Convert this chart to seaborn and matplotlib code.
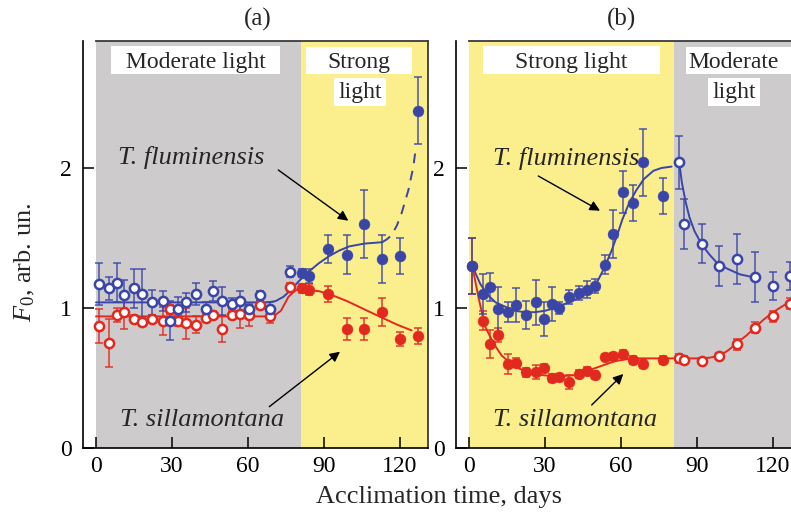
import matplotlib
matplotlib.use("Agg")
import matplotlib.pyplot as plt
from matplotlib.patches import Rectangle
import pandas as pd
import seaborn as sns

# ---------------- data ----------------
# panel (a): moderate light (open symbols)
a_mod_day = [1.2, 5.1, 8.2, 11.2, 15.1, 18.2, 22.1, 26.3, 29.2, 32.2, 35.4, 39.3,
             43.3, 46.3, 49.6, 53.6, 56.8, 60.5, 64.7, 68.7, 76.6]
a_mod_flu = [1.17, 1.14, 1.18, 1.09, 1.14, 1.10, 1.04, 1.05, 0.91, 0.99, 1.04, 1.10,
             0.99, 1.12, 1.05, 1.03, 1.05, 0.99, 1.09, 0.99, 1.26]
a_mod_flu_err = [0.15, 0.08, 0.14, 0.11, 0.14, 0.18, 0.09, 0.07, 0.14, 0.09, 0.07, 0.08,
                 0.05, 0.07, 0.10, 0.04, 0.07, 0.03, 0.03, 0.05, 0.04]
a_mod_sil = [0.87, 0.75, 0.95, 0.97, 0.92, 0.90, 0.92, 0.91, 0.99, 0.91, 0.89, 0.88,
             0.93, 0.95, 0.85, 0.95, 0.96, 0.95, 1.02, 0.94, 1.15]
a_mod_sil_err = [0.12, 0.17, 0.05, 0.12, 0.03, 0.03, 0.03, 0.10, 0.03, 0.04, 0.11, 0.06,
                 0.03, 0.03, 0.09, 0.03, 0.10, 0.08, 0.03, 0.05, 0.03]
# panel (a): strong light (filled symbols)
a_str_day = [81.5, 84.0, 91.7, 99.0, 106.0, 113.0, 120.0, 127.3]
a_str_flu = [1.25, 1.23, 1.42, 1.38, 1.60, 1.35, 1.37, 2.41]
a_str_flu_err = [0.03, 0.05, 0.10, 0.14, 0.24, 0.17, 0.13, 0.24]
a_str_sil = [1.14, 1.13, 1.10, 0.85, 0.85, 0.97, 0.78, 0.80]
a_str_sil_err = [0.03, 0.04, 0.06, 0.08, 0.08, 0.10, 0.05, 0.06]
# panel (a): fitted curves
a_fit_flu_day = [0, 68, 71, 74, 77, 80, 84, 88, 92, 96, 100, 106, 113]
a_fit_flu = [1.04, 1.04, 1.05, 1.08, 1.13, 1.19, 1.26, 1.32, 1.37, 1.41, 1.44, 1.46, 1.47]
a_dash_flu_day = [113, 114.8, 116.7, 118.8, 120.7, 123.3, 125.3, 126.3]
a_dash_flu = [1.47, 1.49, 1.52, 1.59, 1.68, 1.84, 2.01, 2.15]
a_fit_sil_day = [0, 70, 73, 76, 79, 83, 88, 92, 99, 106, 113, 119, 124.6]
a_fit_sil = [0.94, 0.94, 0.98, 1.08, 1.13, 1.13, 1.12, 1.10, 1.05, 0.99, 0.93, 0.88, 0.84]

# panel (b): strong light (filled symbols)
b_str_day = [1.3, 5.4, 8.3, 11.3, 15.3, 18.6, 22.4, 26.5, 29.5, 32.6, 35.5, 39.6,
             43.6, 46.7, 49.7, 53.7, 56.7, 60.9, 64.9, 68.8, 76.7]
b_str_flu = [1.30, 1.10, 1.15, 0.99, 0.97, 1.02, 0.95, 1.04, 0.92, 1.03, 1.00, 1.08,
             1.11, 1.13, 1.16, 1.31, 1.53, 1.83, 1.75, 2.04, 1.80]
b_str_flu_err = [0.20, 0.14, 0.10, 0.16, 0.07, 0.12, 0.10, 0.16, 0.12, 0.12, 0.04, 0.05,
                 0.05, 0.06, 0.05, 0.07, 0.17, 0.15, 0.13, 0.24, 0.13]
b_str_sil = [1.30, 0.91, 0.74, 0.81, 0.60, 0.61, 0.54, 0.54, 0.57, 0.50, 0.51, 0.47,
             0.53, 0.55, 0.52, 0.65, 0.66, 0.67, 0.63, 0.60, 0.63]
b_str_sil_err = [0.20, 0.07, 0.10, 0.05, 0.07, 0.03, 0.03, 0.05, 0.03, 0.03, 0.02, 0.05,
                 0.03, 0.03, 0.03, 0.02, 0.02, 0.03, 0.03, 0.03, 0.03]
# panel (b): moderate light (open symbols)
b_mod_day = [82.9, 85.0, 92.0, 98.8, 105.9, 112.9, 120.1, 126.7]
b_mod_flu = [2.04, 1.60, 1.46, 1.30, 1.35, 1.22, 1.16, 1.23]
b_mod_flu_err = [0.19, 0.18, 0.14, 0.14, 0.18, 0.18, 0.10, 0.10]
b_mod_sil = [0.64, 0.63, 0.62, 0.66, 0.74, 0.86, 0.94, 1.03]
b_mod_sil_err = [0.03, 0.03, 0.02, 0.02, 0.04, 0.04, 0.04, 0.04]
# panel (b): fitted curves
b_fit1_flu_day = [1.3, 4.5, 7.6, 10.5, 14.2, 18, 22.1, 26, 30, 34, 37.9, 42, 45.8, 48.5,
                  51, 53.5, 56.3, 58.5, 60.5, 63, 66, 69, 72.8, 76, 80]
b_fit1_flu = [1.30, 1.17, 1.09, 1.04, 1.01, 0.98, 0.97, 0.97, 0.98, 1.00, 1.03, 1.06, 1.10,
              1.14, 1.20, 1.29, 1.41, 1.52, 1.63, 1.74, 1.84, 1.92, 1.98, 2.00, 2.01]
b_fit2_flu_day = [83, 84, 85.5, 87, 89, 92, 95, 98, 102, 107, 112.2]
b_fit2_flu = [2.04, 1.90, 1.76, 1.65, 1.55, 1.45, 1.38, 1.32, 1.28, 1.24, 1.22]
b_fit1_sil_day = [1.3, 3.7, 6.3, 9.6, 12.9, 18.2, 24.8, 34, 41.8, 49.7, 57.6, 64.2, 70, 81]
b_fit1_sil = [1.30, 1.08, 0.87, 0.75, 0.66, 0.58, 0.53, 0.51, 0.52, 0.57, 0.62, 0.64, 0.64, 0.64]
b_fit2_sil_day = [83, 91, 95, 99.1, 102.5, 105.7, 109.3, 112.9, 116.5, 120.1, 123.5, 127]
b_fit2_sil = [0.64, 0.64, 0.645, 0.66, 0.70, 0.75, 0.80, 0.86, 0.92, 0.97, 1.01, 1.05]

x_ticks = [0, 30, 60, 90, 120]
y_ticks = [0, 1, 2]

# ---------------- style ----------------
sns.set_theme(style="ticks")
plt.rcParams["font.family"] = ["Liberation Serif", "DejaVu Serif"]
plt.rcParams["mathtext.fontset"] = "custom"
plt.rcParams["mathtext.rm"] = "Liberation Serif"
plt.rcParams["mathtext.it"] = "Liberation Serif:italic"

BLUE = "#3a45a8"
RED = "#e2291f"
GRAY = "#cdcbcb"
YELLOW = "#fbee8c"
EDGE = "#3a3a3a"

W, H = 791, 515
AX_W = 345
AX_TOP, AX_BOT = 41, 448

fig = plt.figure(figsize=(W / 100, H / 100), dpi=100)
axA = fig.add_axes([83 / W, (H - AX_BOT) / H, AX_W / W, (AX_BOT - AX_TOP) / H])
axB = fig.add_axes([456 / W, (H - AX_BOT) / H, AX_W / W, (AX_BOT - AX_TOP) / H])

XLIM = (-5.13, 131.07)
YLIM = (0, 2.907)


def pxa(left, px, py):
    return ((px - left) / AX_W, (AX_BOT - py) / (AX_BOT - AX_TOP))


def points(ax, days, vals, errs, color, filled):
    ax.errorbar(days, vals, yerr=errs, fmt="none", ecolor=color, elinewidth=1.1,
                capsize=2.8, capthick=1.1, zorder=3, alpha=0.9)
    df = pd.DataFrame({"day": days, "val": vals})
    if filled:
        sns.scatterplot(data=df, x="day", y="val", ax=ax, s=62, color=color,
                        edgecolor=color, linewidth=0.3, zorder=4)
    else:
        sns.scatterplot(data=df, x="day", y="val", ax=ax, s=44, color="white",
                        edgecolor=color, linewidth=1.8, zorder=4)


def fit(ax, days, vals, color, dashed=False):
    df = pd.DataFrame({"day": days, "val": vals})
    sns.lineplot(data=df, x="day", y="val", ax=ax, color=color, lw=1.4,
                 sort=False, estimator=None, zorder=2,
                 linestyle=(0, (5, 4)) if dashed else "-")


def setup(ax, first_color, second_color):
    ax.set_facecolor("white")
    ax.axvspan(0, 81, color=first_color, lw=0, zorder=0)
    ax.axvspan(81, XLIM[1], color=second_color, lw=0, zorder=0)


def finish(ax):
    ax.set_xlim(*XLIM)
    ax.set_ylim(*YLIM)
    ax.set_xticks(x_ticks)
    ax.set_yticks(y_ticks)
    ax.tick_params(direction="in", length=8, width=1.1, labelsize=17, colors="black",
                   pad=6)
    ax.tick_params(axis="y", pad=8)
    for s in ["left", "bottom"]:
        ax.spines[s].set_color("black")
        ax.spines[s].set_linewidth(1.2)
    ax.spines["top"].set_visible(True)
    ax.spines["top"].set_bounds(0, XLIM[1])
    ax.spines["top"].set_color(EDGE)
    ax.spines["top"].set_linewidth(1.3)
    ax.spines["right"].set_visible(True)
    ax.spines["right"].set_color(EDGE)
    ax.spines["right"].set_linewidth(1.3)
    ax.set_xlabel("")
    ax.set_ylabel("")


def box(ax, left, x1, x2, y1, y2, text, tx, ty_base):
    fx1, fy2 = pxa(left, x1, y2)
    fx2, fy1 = pxa(left, x2, y1)
    ax.add_patch(Rectangle((fx1, fy2), fx2 - fx1, fy1 - fy2, transform=ax.transAxes,
                           facecolor="white", edgecolor="none", zorder=1))
    fx, fy = pxa(left, tx, ty_base)
    ax.text(fx, fy, text, transform=ax.transAxes, ha="center", va="baseline",
            fontsize=17, zorder=5)


def species(ax, left, text, tx, ty_base, tail, head):
    fx, fy = pxa(left, tx, ty_base)
    ax.text(fx, fy, text, transform=ax.transAxes, ha="center", va="baseline",
            fontsize=19, style="italic", zorder=6)
    ax.annotate("", xy=pxa(left, *head), xytext=pxa(left, *tail),
                xycoords="axes fraction", textcoords="axes fraction",
                arrowprops=dict(arrowstyle="-|>", color="black", lw=1.0,
                                mutation_scale=15, shrinkA=0, shrinkB=0), zorder=6)


# ---------------- panel (a) ----------------
setup(axA, GRAY, YELLOW)
fit(axA, a_fit_flu_day, a_fit_flu, BLUE)
fit(axA, a_dash_flu_day, a_dash_flu, BLUE, dashed=True)
fit(axA, a_fit_sil_day, a_fit_sil, RED)
points(axA, a_mod_day, a_mod_sil, a_mod_sil_err, RED, False)
points(axA, a_mod_day, a_mod_flu, a_mod_flu_err, BLUE, False)
points(axA, a_str_day, a_str_sil, a_str_sil_err, RED, True)
points(axA, a_str_day, a_str_flu, a_str_flu_err, BLUE, True)
box(axA, 83, 111, 280, 46, 74, "Moderate light", 195.5, 68)
box(axA, 83, 306, 412, 47, 74, "Strong", 359, 68)
box(axA, 83, 334, 386, 78, 106, "light", 360, 98)
species(axA, 83, "T. fluminensis", 191.5, 164, (278.3, 170), (348.3, 220.7))
species(axA, 83, "T. sillamontana", 202, 426, (269.3, 406.7), (340, 351.7))
finish(axA)

# ---------------- panel (b) ----------------
setup(axB, YELLOW, GRAY)
fit(axB, b_fit1_flu_day, b_fit1_flu, BLUE)
fit(axB, b_fit2_flu_day, b_fit2_flu, BLUE)
fit(axB, b_fit1_sil_day, b_fit1_sil, RED)
fit(axB, b_fit2_sil_day, b_fit2_sil, RED)
points(axB, b_str_day, b_str_sil, b_str_sil_err, RED, True)
points(axB, b_str_day, b_str_flu, b_str_flu_err, BLUE, True)
points(axB, b_mod_day, b_mod_sil, b_mod_sil_err, RED, False)
points(axB, b_mod_day, b_mod_flu, b_mod_flu_err, BLUE, False)
box(axB, 456, 483, 660, 46, 74, "Strong light", 571.5, 68)
box(axB, 456, 686, 800, 47, 74, "Moderate", 734, 68)
box(axB, 456, 708, 760, 78, 106, "light", 734, 98)
species(axB, 456, "T. fluminensis", 566, 165, (538.3, 176), (600, 210.7))
species(axB, 456, "T. sillamontana", 575, 426, (591.7, 405), (623.3, 374))
finish(axB)

# ---------------- labels ----------------
fig.text(258 / W, 1 - 19 / H, "(a)", ha="center", va="center", fontsize=18)
fig.text(622 / W, 1 - 19 / H, "(b)", ha="center", va="center", fontsize=18)
fig.text(439 / W, 1 - 497 / H, "Acclimation time, days", ha="center", va="center",
         fontsize=19)
fig.text(25 / W, 1 - 262 / H, r"$F_0$, arb. un.", ha="center", va="center",
         rotation=90, fontsize=19)

fig.savefig("out.png", dpi=100)
